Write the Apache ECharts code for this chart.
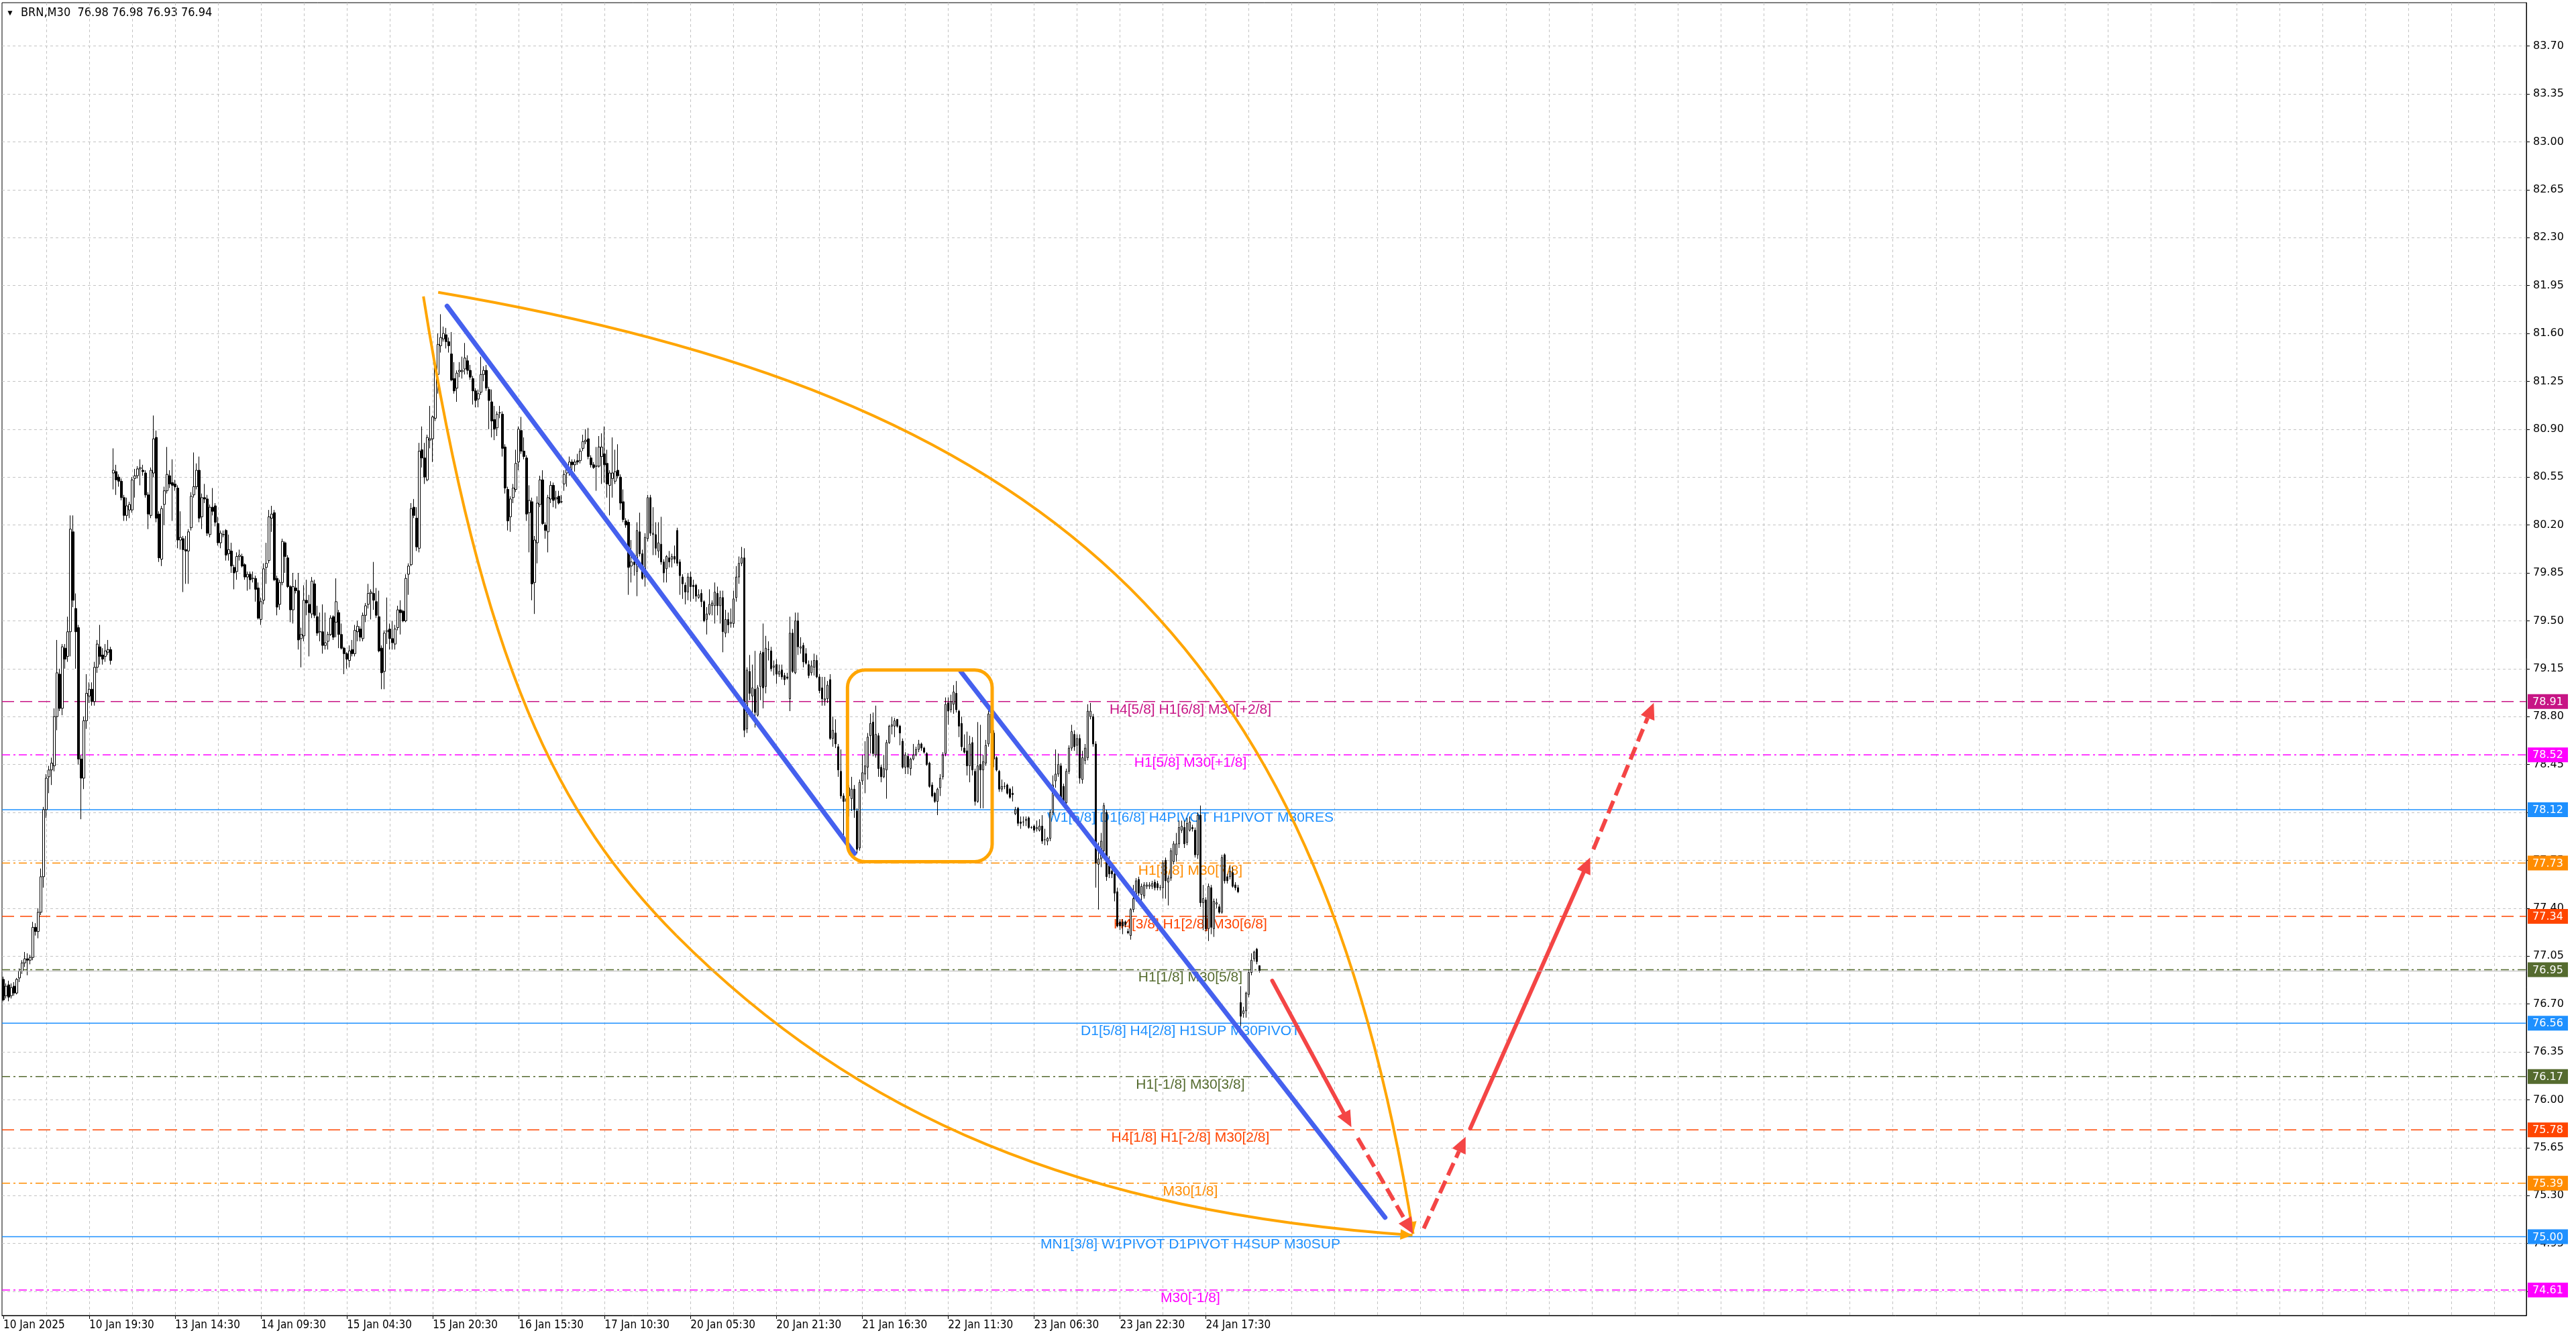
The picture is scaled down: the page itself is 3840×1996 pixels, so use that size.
<!DOCTYPE html>
<html>
<head>
<meta charset="utf-8">
<title>BRN,M30</title>
<script src="https://cdn.jsdelivr.net/npm/echarts@6.0.0/dist/echarts.min.js"></script>
<style>
html, body { margin: 0; padding: 0; background: #fff; }
#chart { width: 3840px; height: 1996px; }
</style>
</head>
<body>
<div id="chart"></div>
<script>
// time axis labels, one every 32 half-hour bars
var timeTickBars = [0, 32, 64, 96, 128, 160, 192, 224, 256, 288, 320, 352, 384, 416, 448];
var timeTickLabels = ['10 Jan 2025', '10 Jan 19:30', '13 Jan 14:30', '14 Jan 09:30', '15 Jan 04:30',
    '15 Jan 20:30', '16 Jan 15:30', '17 Jan 10:30', '20 Jan 05:30', '20 Jan 21:30',
    '21 Jan 16:30', '22 Jan 11:30', '23 Jan 06:30', '23 Jan 22:30', '24 Jan 17:30'];
var priceTicks = [74.60, 74.95, 75.30, 75.65, 76.00, 76.35, 76.70, 77.05, 77.40, 77.75, 78.10, 78.45,
    78.80, 79.15, 79.50, 79.85, 80.20, 80.55, 80.90, 81.25, 81.60, 81.95, 82.30, 82.65, 83.00, 83.35, 83.70];

// M30 candles, bar 0 = 10 Jan 03:30
var barOpen = [
    76.88, 76.76, 76.84, 76.76, 76.83, 76.78, 76.89, 76.94, 77.00, 77.03,
    77.02, 77.04, 77.26, 77.23, 77.37, 77.63, 78.12, 78.36, 78.41, 78.44,
    78.80, 79.11, 78.86, 79.30, 79.24, 79.42, 80.15, 79.59, 79.45, 78.49,
    78.35, 78.77, 78.95, 79.00, 78.91, 79.16, 79.31, 79.25, 79.24, 79.27,
    79.29, 80.58, 80.59, 80.55, 80.52, 80.40, 80.27, 80.31, 80.31, 80.54,
    80.56, 80.61, 80.60, 80.58, 80.42, 80.27, 80.58, 80.84, 80.28, 79.95,
    80.35, 80.45, 80.56, 80.51, 80.50, 80.47, 80.09, 80.10, 80.02, 80.01,
    80.18, 80.42, 80.48, 80.60, 80.26, 80.40, 80.39, 80.13, 80.33, 80.34,
    80.21, 80.07, 80.13, 80.16, 79.99, 80.01, 79.89, 79.86, 79.97, 79.97,
    79.91, 79.82, 79.84, 79.81, 79.81, 79.74, 79.51, 79.65, 79.89, 79.94,
    80.25, 80.29, 79.81, 79.62, 79.78, 80.07, 79.96, 79.75, 79.58, 79.74,
    79.72, 79.37, 79.39, 79.65, 79.62, 79.55, 79.77, 79.53, 79.42, 79.42,
    79.32, 79.35, 79.40, 79.53, 79.49, 79.56, 79.40, 79.30, 79.26, 79.21,
    79.29, 79.26, 79.42, 79.44, 79.37, 79.54, 79.62, 79.70, 79.70, 79.64,
    79.53, 79.30, 79.13, 79.42, 79.44, 79.37, 79.33, 79.45, 79.58, 79.57,
    79.50, 79.84, 79.91, 80.33, 80.25, 80.03, 80.75, 80.69, 80.53, 80.82,
    80.83, 80.98, 81.30, 81.51, 81.56, 81.59, 81.54, 81.45, 81.27, 81.20,
    81.32, 81.32, 81.34, 81.40, 81.33, 81.27, 81.18, 81.12, 81.17, 81.30,
    81.33, 81.19, 81.10, 80.97, 80.91, 81.02, 81.01, 80.77, 80.46, 80.26,
    80.40, 80.46, 80.66, 80.89, 80.74, 80.69, 80.29, 80.37, 79.78, 80.07,
    80.35, 80.53, 80.20, 80.15, 80.39, 80.49, 80.39, 80.41, 80.37, 80.50,
    80.58, 80.58, 80.66, 80.64, 80.67, 80.67, 80.76, 80.81, 80.83, 80.69,
    80.64, 80.63, 80.63, 80.70, 80.72, 80.65, 80.49, 80.54, 80.52, 80.60,
    80.55, 80.37, 80.23, 80.22, 79.90, 79.93, 79.86, 80.15, 79.99, 79.82,
    80.10, 80.40, 80.13, 80.13, 80.01, 80.06, 79.93, 79.88, 79.96, 79.95,
    79.97, 80.16, 79.93, 79.82, 79.76, 79.71, 79.82, 79.76, 79.76, 79.67,
    79.70, 79.64, 79.51, 79.55, 79.61, 79.61, 79.70, 79.61, 79.67, 79.41,
    79.51, 79.48, 79.48, 79.67, 79.82, 79.92, 79.96, 78.71, 79.13, 78.95,
    79.00, 78.81, 79.02, 79.27, 79.02, 79.29, 79.28, 79.16, 79.18, 79.11,
    79.14, 79.10, 79.09, 78.93, 79.41, 79.12, 79.50, 79.30, 79.32, 79.26,
    79.18, 79.12, 79.16, 79.21, 79.09, 79.01, 78.92, 78.93, 79.07, 78.64,
    78.68, 78.58, 78.40, 78.22, 78.18, 78.22, 78.20, 78.27, 78.11, 77.84,
    78.33, 78.38, 78.43, 78.66, 78.76, 78.52, 78.66, 78.43, 78.36, 78.41,
    78.61, 78.73, 78.73, 78.78, 78.73, 78.62, 78.43, 78.51, 78.42, 78.49,
    78.52, 78.56, 78.60, 78.57, 78.53, 78.46, 78.30, 78.24, 78.18, 78.28,
    78.36, 78.53, 78.90, 78.85, 78.89, 78.97, 78.84, 78.75, 78.57, 78.55,
    78.44, 78.61, 78.40, 78.18, 78.45, 78.41, 78.46, 78.60, 78.82, 78.68,
    78.50, 78.40, 78.27, 78.29, 78.30, 78.27, 78.24, 78.09, 78.13, 78.03,
    78.03, 78.04, 78.06, 77.99, 78.00, 77.98, 77.97, 78.00, 77.90, 77.89,
    77.91, 78.10, 78.33, 78.38, 78.44, 78.29, 78.17, 78.40, 78.57, 78.67,
    78.59, 78.64, 78.34, 78.48, 78.50, 78.80, 78.80, 78.60, 77.72, 77.76,
    77.82, 78.10, 77.71, 77.67, 77.65, 77.52, 77.30, 77.30, 77.30, 77.23,
    77.20, 77.39, 77.47, 77.61, 77.50, 77.49, 77.56, 77.56, 77.56, 77.59,
    77.58, 77.55, 77.55, 77.75, 77.59, 77.62, 77.74, 77.79, 77.87, 77.97,
    77.99, 77.88, 77.97, 77.99, 77.97, 77.79, 78.08, 77.44, 77.46, 77.25,
    77.55, 77.25, 77.43, 77.41, 77.37, 77.79, 77.63, 77.63, 77.66, 77.57,
    77.55, 76.71, 76.63, 76.65, 76.77, 76.93, 77.03, 77.10, 76.98
];
var barHigh = [
    76.90, 76.85, 76.87, 76.85, 76.86, 76.89, 76.96, 77.02, 77.08, 77.07,
    77.06, 77.30, 77.29, 77.40, 77.69, 78.14, 78.38, 78.44, 78.50, 78.86,
    79.36, 79.15, 79.33, 79.33, 79.53, 80.27, 80.27, 79.70, 79.47, 78.52,
    78.80, 79.11, 79.05, 79.05, 79.20, 79.36, 79.47, 79.30, 79.33, 79.36,
    79.31, 80.76, 80.64, 80.57, 80.54, 80.42, 80.40, 80.37, 80.55, 80.61,
    80.63, 80.68, 80.64, 80.60, 80.44, 80.62, 81.00, 80.89, 80.30, 80.34,
    80.48, 80.77, 80.60, 80.68, 80.53, 80.49, 80.30, 80.12, 80.12, 80.17,
    80.44, 80.73, 80.65, 80.70, 80.43, 80.50, 80.42, 80.35, 80.47, 80.36,
    80.26, 80.16, 80.16, 80.17, 80.13, 80.07, 79.91, 80.00, 80.02, 79.99,
    79.92, 79.86, 79.86, 79.86, 79.83, 79.78, 79.67, 79.92, 80.07, 80.31,
    80.34, 80.31, 79.83, 79.80, 80.10, 80.08, 79.98, 79.76, 79.85, 79.80,
    79.85, 79.45, 79.76, 79.80, 79.69, 79.82, 79.80, 79.61, 79.56, 79.62,
    79.56, 79.42, 79.54, 79.54, 79.81, 79.58, 79.48, 79.31, 79.27, 79.32,
    79.36, 79.47, 79.50, 79.46, 79.56, 79.63, 79.77, 79.73, 79.93, 79.74,
    79.72, 79.32, 79.43, 79.67, 79.48, 79.50, 79.47, 79.61, 79.65, 79.58,
    79.84, 79.92, 80.36, 80.39, 80.33, 80.80, 80.92, 80.80, 80.86, 81.07,
    81.00, 81.40, 81.60, 81.74, 81.65, 81.64, 81.57, 81.61, 81.39, 81.33,
    81.39, 81.43, 81.53, 81.44, 81.37, 81.29, 81.20, 81.19, 81.43, 81.36,
    81.37, 81.21, 81.19, 81.07, 81.03, 81.07, 81.03, 80.79, 80.48, 80.41,
    80.50, 80.75, 80.92, 80.99, 80.84, 80.71, 80.49, 80.40, 80.12, 80.41,
    80.56, 80.60, 80.22, 80.42, 80.52, 80.51, 80.45, 80.45, 80.42, 80.60,
    80.65, 80.70, 80.68, 80.68, 80.72, 80.76, 80.86, 80.90, 80.91, 80.71,
    80.66, 80.77, 80.85, 80.87, 80.92, 80.75, 80.60, 80.84, 80.75, 80.79,
    80.57, 80.46, 80.25, 80.24, 80.09, 79.99, 80.22, 80.29, 80.02, 80.14,
    80.42, 80.42, 80.33, 80.22, 80.22, 80.26, 79.95, 79.98, 80.01, 79.99,
    80.05, 80.18, 79.95, 79.84, 79.78, 79.85, 79.86, 79.80, 79.77, 79.73,
    79.73, 79.65, 79.60, 79.73, 79.65, 79.78, 79.75, 79.72, 79.72, 79.58,
    79.56, 79.59, 79.72, 79.90, 79.97, 80.04, 80.03, 79.16, 79.25, 79.18,
    79.28, 79.03, 79.28, 79.48, 79.39, 79.35, 79.31, 79.21, 79.22, 79.18,
    79.18, 79.12, 79.12, 79.53, 79.44, 79.56, 79.56, 79.38, 79.34, 79.30,
    79.21, 79.21, 79.26, 79.25, 79.11, 79.09, 79.09, 79.06, 79.11, 78.80,
    78.78, 78.60, 78.56, 78.24, 78.22, 78.30, 78.36, 78.30, 78.13, 78.34,
    78.52, 78.62, 78.68, 78.82, 78.83, 78.88, 78.68, 78.45, 78.52, 78.63,
    78.74, 78.80, 78.79, 78.78, 78.74, 78.64, 78.54, 78.53, 78.50, 78.60,
    78.58, 78.63, 78.61, 78.58, 78.54, 78.47, 78.32, 78.25, 78.28, 78.38,
    78.54, 78.94, 78.94, 78.96, 79.03, 79.06, 78.85, 78.80, 78.67, 78.69,
    78.66, 78.65, 78.42, 78.76, 78.74, 78.52, 78.63, 78.89, 78.84, 78.70,
    78.51, 78.41, 78.34, 78.32, 78.31, 78.28, 78.29, 78.14, 78.14, 78.07,
    78.07, 78.07, 78.07, 78.00, 78.01, 78.04, 78.05, 78.08, 77.98, 77.92,
    78.12, 78.37, 78.56, 78.53, 78.46, 78.31, 78.42, 78.59, 78.74, 78.70,
    78.67, 78.67, 78.55, 78.60, 78.89, 78.90, 78.82, 78.62, 77.88, 77.95,
    78.17, 78.12, 77.78, 77.70, 77.67, 77.55, 77.32, 77.32, 77.31, 77.25,
    77.40, 77.57, 77.62, 77.63, 77.58, 77.59, 77.59, 77.59, 77.60, 77.61,
    77.60, 77.57, 77.75, 77.77, 77.64, 77.84, 77.89, 77.95, 78.04, 78.04,
    78.04, 78.06, 78.07, 78.01, 77.99, 78.10, 78.15, 77.57, 77.48, 77.58,
    77.57, 77.47, 77.47, 77.43, 77.79, 77.80, 77.65, 77.71, 77.70, 77.59,
    77.57, 76.83, 76.68, 76.79, 76.95, 77.07, 77.09, 77.11, 76.98
];
var barLow = [
    76.72, 76.74, 76.72, 76.74, 76.76, 76.77, 76.86, 76.92, 76.97, 76.91,
    76.99, 77.02, 77.20, 77.18, 77.35, 77.55, 78.06, 78.24, 78.30, 78.40,
    78.70, 78.84, 78.81, 79.15, 79.20, 79.24, 79.60, 79.15, 78.45, 78.05,
    78.27, 78.71, 78.90, 78.88, 78.88, 79.12, 79.18, 79.18, 79.20, 79.25,
    79.18, 80.46, 80.42, 80.48, 80.38, 80.23, 80.23, 80.25, 80.29, 80.40,
    80.54, 80.49, 80.56, 80.40, 80.17, 80.25, 80.55, 80.22, 79.93, 79.90,
    80.20, 80.43, 80.47, 80.23, 80.45, 80.03, 80.02, 79.71, 79.77, 79.77,
    80.16, 80.40, 80.46, 80.22, 80.17, 80.36, 80.12, 80.11, 80.27, 80.19,
    80.05, 80.03, 80.11, 79.94, 79.94, 79.85, 79.73, 79.80, 79.94, 79.89,
    79.80, 79.72, 79.73, 79.78, 79.64, 79.51, 79.47, 79.62, 79.77, 79.92,
    80.15, 79.79, 79.54, 79.58, 79.76, 79.85, 79.74, 79.49, 79.48, 79.70,
    79.29, 79.16, 79.35, 79.54, 79.24, 79.52, 79.52, 79.39, 79.35, 79.26,
    79.29, 79.29, 79.39, 79.36, 79.38, 79.30, 79.29, 79.11, 79.15, 79.16,
    79.24, 79.24, 79.35, 79.35, 79.35, 79.49, 79.59, 79.51, 79.58, 79.52,
    79.27, 79.00, 79.00, 79.33, 79.29, 79.29, 79.29, 79.43, 79.40, 79.49,
    79.49, 79.69, 79.90, 80.25, 80.01, 80.00, 80.62, 80.50, 80.52, 80.76,
    80.66, 80.96, 81.16, 81.46, 81.54, 81.49, 81.46, 81.25, 81.16, 81.10,
    81.28, 81.27, 81.30, 81.30, 81.26, 81.08, 81.06, 81.06, 81.15, 81.25,
    81.18, 80.90, 80.84, 80.82, 80.85, 80.98, 80.70, 80.43, 80.16, 80.15,
    80.36, 80.44, 80.60, 80.72, 80.68, 80.23, 80.00, 79.65, 79.55, 79.92,
    80.33, 80.20, 80.10, 80.00, 80.36, 80.33, 80.32, 80.35, 80.36, 80.45,
    80.48, 80.56, 80.59, 80.59, 80.64, 80.65, 80.74, 80.79, 80.68, 80.62,
    80.61, 80.45, 80.62, 80.50, 80.51, 80.40, 80.27, 80.40, 80.50, 80.54,
    80.31, 80.22, 80.18, 79.69, 79.78, 79.83, 79.68, 79.97, 79.80, 79.75,
    80.08, 80.12, 79.98, 79.98, 79.96, 79.91, 79.78, 79.78, 79.89, 79.89,
    79.92, 79.90, 79.69, 79.66, 79.62, 79.65, 79.64, 79.66, 79.64, 79.66,
    79.60, 79.49, 79.40, 79.54, 79.54, 79.48, 79.54, 79.48, 79.27, 79.38,
    79.41, 79.45, 79.45, 79.64, 79.77, 79.90, 78.65, 78.68, 78.92, 78.81,
    78.72, 78.80, 78.92, 78.86, 78.97, 79.21, 79.13, 79.10, 79.04, 79.09,
    79.07, 79.03, 79.07, 78.84, 79.12, 79.11, 79.25, 79.26, 79.16, 79.18,
    79.08, 79.10, 79.10, 79.08, 78.97, 78.88, 78.88, 78.90, 78.63, 78.58,
    78.57, 78.36, 78.20, 77.93, 77.95, 78.07, 78.11, 78.06, 77.80, 77.82,
    78.30, 78.24, 78.34, 78.53, 78.51, 78.50, 78.36, 78.32, 78.35, 78.20,
    78.60, 78.67, 78.65, 78.72, 78.59, 78.42, 78.38, 78.38, 78.37, 78.48,
    78.51, 78.54, 78.55, 78.53, 78.44, 78.28, 78.21, 78.17, 78.08, 78.22,
    78.34, 78.51, 78.74, 78.83, 78.82, 78.83, 78.65, 78.55, 78.53, 78.37,
    78.32, 78.37, 78.15, 78.17, 78.13, 78.13, 78.44, 78.58, 78.66, 78.43,
    78.40, 78.25, 78.25, 78.27, 78.23, 78.20, 78.18, 78.08, 78.00, 77.98,
    78.00, 78.00, 77.98, 77.98, 77.95, 77.96, 77.96, 77.87, 77.86, 77.86,
    77.89, 78.08, 78.28, 78.36, 78.17, 78.17, 78.15, 78.38, 78.55, 78.55,
    78.52, 78.31, 78.31, 78.45, 78.48, 78.78, 78.58, 77.55, 77.39, 77.70,
    77.80, 77.60, 77.62, 77.62, 77.45, 77.26, 77.24, 77.21, 77.26, 77.21,
    77.17, 77.37, 77.45, 77.49, 77.43, 77.47, 77.54, 77.54, 77.54, 77.53,
    77.53, 77.53, 77.47, 77.47, 77.42, 77.60, 77.72, 77.74, 77.84, 77.95,
    77.84, 77.86, 77.96, 77.96, 77.77, 77.76, 77.41, 77.24, 77.23, 77.16,
    77.21, 77.19, 77.40, 77.36, 77.36, 77.58, 77.58, 77.61, 77.55, 77.53,
    77.51, 76.54, 76.60, 76.60, 76.75, 76.91, 77.01, 76.99, 76.93
];
var barClose = [
    76.73, 76.83, 76.75, 76.82, 76.78, 76.88, 76.94, 77.00, 77.03, 77.02,
    77.04, 77.26, 77.23, 77.37, 77.63, 78.12, 78.35, 78.41, 78.46, 78.80,
    79.12, 78.86, 79.31, 79.22, 79.42, 80.17, 79.65, 79.42, 78.49, 78.35,
    78.77, 78.97, 79.00, 78.91, 79.16, 79.33, 79.24, 79.22, 79.28, 79.29,
    79.21, 80.60, 80.53, 80.52, 80.40, 80.27, 80.34, 80.35, 80.53, 80.56,
    80.61, 80.62, 80.59, 80.42, 80.28, 80.60, 80.83, 80.25, 79.96, 80.32,
    80.45, 80.57, 80.50, 80.49, 80.48, 80.09, 80.11, 80.02, 80.01, 80.15,
    80.41, 80.48, 80.60, 80.25, 80.40, 80.39, 80.14, 80.33, 80.30, 80.22,
    80.07, 80.14, 80.13, 79.98, 80.02, 79.90, 79.85, 79.97, 79.98, 79.90,
    79.82, 79.84, 79.80, 79.81, 79.73, 79.52, 79.64, 79.88, 79.92, 80.26,
    80.28, 79.80, 79.60, 79.78, 80.08, 79.97, 79.75, 79.58, 79.75, 79.72,
    79.36, 79.40, 79.65, 79.63, 79.56, 79.79, 79.54, 79.41, 79.42, 79.32,
    79.34, 79.40, 79.52, 79.38, 79.64, 79.40, 79.30, 79.26, 79.22, 79.28,
    79.26, 79.43, 79.46, 79.38, 79.54, 79.61, 79.70, 79.71, 79.65, 79.54,
    79.28, 79.12, 79.41, 79.43, 79.37, 79.34, 79.44, 79.58, 79.56, 79.50,
    79.81, 79.90, 80.32, 80.27, 80.04, 80.74, 80.69, 80.55, 80.84, 80.83,
    80.99, 81.35, 81.52, 81.57, 81.60, 81.54, 81.51, 81.26, 81.18, 81.31,
    81.33, 81.33, 81.42, 81.33, 81.28, 81.18, 81.11, 81.16, 81.30, 81.33,
    81.20, 81.11, 80.96, 80.90, 81.01, 81.02, 80.76, 80.47, 80.23, 80.39,
    80.47, 80.65, 80.90, 80.74, 80.70, 80.28, 80.38, 79.77, 80.09, 80.36,
    80.53, 80.21, 80.16, 80.40, 80.49, 80.38, 80.40, 80.36, 80.37, 80.57,
    80.63, 80.66, 80.64, 80.66, 80.66, 80.74, 80.81, 80.82, 80.70, 80.64,
    80.62, 80.63, 80.77, 80.77, 80.64, 80.50, 80.58, 80.58, 80.59, 80.56,
    80.36, 80.24, 80.20, 79.89, 79.93, 79.91, 80.16, 79.99, 79.81, 80.11,
    80.40, 80.14, 80.14, 80.03, 80.07, 79.93, 79.85, 79.97, 79.93, 79.97,
    79.95, 79.92, 79.83, 79.77, 79.71, 79.82, 79.75, 79.75, 79.68, 79.69,
    79.64, 79.50, 79.55, 79.62, 79.63, 79.71, 79.61, 79.67, 79.42, 79.51,
    79.47, 79.49, 79.66, 79.82, 79.92, 79.96, 78.70, 79.14, 78.97, 79.01,
    78.83, 79.01, 79.26, 79.01, 79.30, 79.29, 79.15, 79.17, 79.11, 79.13,
    79.09, 79.07, 79.08, 79.41, 79.13, 79.50, 79.31, 79.31, 79.20, 79.19,
    79.10, 79.17, 79.21, 79.09, 78.99, 78.93, 78.93, 79.03, 78.64, 78.70,
    78.60, 78.41, 78.22, 78.18, 78.20, 78.28, 78.27, 78.12, 77.83, 78.32,
    78.39, 78.44, 78.65, 78.75, 78.53, 78.67, 78.42, 78.36, 78.42, 78.61,
    78.73, 78.74, 78.77, 78.73, 78.68, 78.43, 78.52, 78.43, 78.49, 78.52,
    78.56, 78.60, 78.57, 78.54, 78.45, 78.29, 78.22, 78.18, 78.27, 78.35,
    78.52, 78.89, 78.84, 78.91, 78.98, 78.85, 78.73, 78.58, 78.54, 78.44,
    78.60, 78.41, 78.18, 78.44, 78.41, 78.47, 78.59, 78.82, 78.68, 78.49,
    78.41, 78.27, 78.29, 78.29, 78.24, 78.21, 78.23, 78.12, 78.02, 78.02,
    78.03, 78.05, 77.99, 77.99, 77.97, 77.99, 78.00, 77.89, 77.90, 77.91,
    78.10, 78.30, 78.38, 78.45, 78.18, 78.18, 78.40, 78.57, 78.69, 78.58,
    78.64, 78.35, 78.50, 78.57, 78.84, 78.84, 78.60, 77.73, 77.76, 77.89,
    78.15, 77.63, 77.65, 77.65, 77.51, 77.27, 77.27, 77.27, 77.28, 77.22,
    77.39, 77.47, 77.60, 77.51, 77.56, 77.57, 77.57, 77.57, 77.58, 77.55,
    77.55, 77.55, 77.73, 77.60, 77.62, 77.82, 77.87, 77.87, 77.99, 78.00,
    77.87, 78.02, 78.03, 77.98, 77.79, 78.08, 77.44, 77.47, 77.25, 77.56,
    77.26, 77.45, 77.44, 77.37, 77.77, 77.60, 77.60, 77.67, 77.56, 77.55,
    77.52, 76.61, 76.65, 76.78, 76.93, 77.02, 77.08, 77.01, 76.94
];

// Murrey levels
var levelPrices = [78.91, 78.52, 78.12, 77.73, 77.34, 76.95, 76.56, 76.17, 75.78, 75.39, 75.00, 74.61];
var levelNames = [
    'H4[5/8] H1[6/8] M30[+2/8]', 'H1[5/8] M30[+1/8]', 'W1[5/8] D1[6/8] H4PIVOT H1PIVOT M30RES',
    'H1[3/8] M30[7/8]', 'H4[3/8] H1[2/8] M30[6/8]', 'H1[1/8] M30[5/8]',
    'D1[5/8] H4[2/8] H1SUP M30PIVOT', 'H1[-1/8] M30[3/8]', 'H4[1/8] H1[-2/8] M30[2/8]',
    'M30[1/8]', 'MN1[3/8] W1PIVOT D1PIVOT H4SUP M30SUP', 'M30[-1/8]'
];
var bidPrice = 76.94;

// hand drawn objects, [bar, price]
var trendFrom = [[165.3, 81.80], [356.7, 79.13]];
var trendTo = [[317.1, 77.80], [514.8, 75.14]];
var boxFrom = [314.5, 79.14];
var boxTo = [368.4, 77.74];
// arcs as cubic bezier chains: start, ctrl, ctrl, end, ctrl, ctrl, end ...
var upperArc = [[162.0, 81.90], [387.0, 81.15], [489.25, 79.44], [525.25, 75.02]];
var lowerArc = [[156.5, 81.87], [178.5, 79.16], [206.55, 78.07], [250.75, 77.20],
    [317.9, 75.88], [400.25, 75.18], [525.0, 75.01]];
var arrowFrom = [[472.75, 76.87], [504.6, 75.72], [529.2, 75.06], [546.5, 75.79], [592.4, 77.83]];
var arrowTo = [[502.25, 75.80], [525.2, 75.02], [544.8, 75.73], [591.2, 77.77], [614.9, 78.90]];
var arrowDashed = [false, true, true, false, true];

// styles
var levelColors = ['#C71585', '#FF00FF', '#1E90FF', '#FF8C00', '#FF4500', '#556B2F',
    '#1E90FF', '#556B2F', '#FF4500', '#FF8C00', '#1E90FF', '#FF00FF'];
var levelLine = ['dash', 'dashdot', 'solid', 'dashdot', 'dash', 'dashdot',
    'solid', 'dashdot', 'dash', 'dashdot', 'solid', 'dashdot'];
var DASHES = { solid: null, dash: [18, 9], dashdot: [12, 5, 3, 5] };
var LABEL_BAR = 442.25;
var CONDENSED = '"DejaVu Sans Condensed", "Liberation Sans Narrow", "DejaVu Sans", sans-serif';
var RED = '#F44545';
var ORANGE = '#FFA500';
var BLUE = '#4560EE';

if (barOpen.length !== barClose.length || barHigh.length !== barClose.length || barLow.length !== barClose.length) {
    throw new Error('bar arrays differ: ' + [barOpen.length, barHigh.length, barLow.length, barClose.length].join(','));
}

var candles = [];
for (var i = 0; i < barClose.length; i++) {
    candles.push([i, barOpen[i], barClose[i], barLow[i], barHigh[i]]);
}
var gridBars = [];
for (var b = 16; b < 940; b += 16) gridBars.push(b);

// split the arc chains into bezier segments, flag the last one of each arc for the arrow head
var arcSegments = [];
[upperArc, lowerArc].forEach(function (arc) {
    for (var s = 0; s + 3 < arc.length; s += 3) {
        arcSegments.push([arc[s][0], arc[s][1], arc[s + 1][0], arc[s + 1][1],
            arc[s + 2][0], arc[s + 2][1], arc[s + 3][0], arc[s + 3][1], s + 4 >= arc.length ? 1 : 0]);
    }
});

function arrowHead(tip, from, len, half) {
    var dx = tip[0] - from[0], dy = tip[1] - from[1];
    var d = Math.sqrt(dx * dx + dy * dy) || 1;
    var ux = dx / d, uy = dy / d;
    var bx = tip[0] - ux * len, by = tip[1] - uy * len;
    return {
        base: [bx, by],
        points: [[tip[0], tip[1]], [bx - uy * half, by + ux * half], [bx + uy * half, by - ux * half]]
    };
}

function renderLevel(params, api) {
    var i = params.dataIndex;
    var cs = params.coordSys;
    var p = api.coord([api.value(0), api.value(1)]);
    return {
        type: 'group',
        children: [{
            type: 'line',
            shape: { x1: cs.x, y1: p[1], x2: cs.x + cs.width, y2: p[1] },
            style: { stroke: levelColors[i], lineWidth: 1.5, lineDash: DASHES[levelLine[i]] }
        }, {
            type: 'text', x: p[0], y: p[1] + 12,
            style: {
                text: levelNames[i], fill: levelColors[i], fontSize: 21,
                fontFamily: '"Liberation Sans", Arial, sans-serif', align: 'center', verticalAlign: 'middle'
            }
        }]
    };
}

function renderTag(params, api) {
    var i = params.dataIndex;
    var cs = params.coordSys;
    var y = api.coord([0, api.value(1)])[1];
    var x = cs.x + cs.width + 2;
    return {
        type: 'group',
        children: [{
            type: 'rect', shape: { x: x, y: y - 11, width: 60, height: 22 },
            style: { fill: levelColors[i] }
        }, {
            type: 'text', x: x + 30, y: y + 1,
            style: {
                text: api.value(1).toFixed(2), fill: '#fff', fontSize: 16,
                fontFamily: '"DejaVu Sans", Verdana, sans-serif', align: 'center', verticalAlign: 'middle'
            }
        }]
    };
}

function renderTrend(params, api) {
    var a = api.coord([api.value(0), api.value(1)]);
    var b = api.coord([api.value(2), api.value(3)]);
    return {
        type: 'line',
        shape: { x1: a[0], y1: a[1], x2: b[0], y2: b[1] },
        style: { stroke: BLUE, lineWidth: 7, lineCap: 'round' }
    };
}

function renderBox(params, api) {
    var a = api.coord([api.value(0), api.value(1)]);
    var b = api.coord([api.value(2), api.value(3)]);
    return {
        type: 'rect',
        shape: { x: a[0], y: a[1], width: b[0] - a[0], height: b[1] - a[1], r: 26 },
        style: { fill: 'none', stroke: ORANGE, lineWidth: 5 }
    };
}

function renderArc(params, api) {
    var p = [];
    for (var j = 0; j < 4; j++) p.push(api.coord([api.value(2 * j), api.value(2 * j + 1)]));
    var children = [{
        type: 'bezierCurve',
        shape: {
            x1: p[0][0], y1: p[0][1], cpx1: p[1][0], cpy1: p[1][1],
            cpx2: p[2][0], cpy2: p[2][1], x2: p[3][0], y2: p[3][1]
        },
        style: { fill: 'none', stroke: ORANGE, lineWidth: 4 }
    }];
    if (api.value(8) === 1) {
        var head = arrowHead(p[3], p[2], 18, 8);
        children.push({ type: 'polygon', shape: { points: head.points }, style: { fill: ORANGE } });
    }
    return { type: 'group', children: children };
}

function renderArrow(params, api) {
    var a = api.coord([api.value(0), api.value(1)]);
    var b = api.coord([api.value(2), api.value(3)]);
    var head = arrowHead(b, a, 24, 11);
    var dashed = arrowDashed[params.dataIndex];
    return {
        type: 'group',
        children: [{
            type: 'line',
            shape: { x1: a[0], y1: a[1], x2: head.base[0], y2: head.base[1] },
            style: { stroke: RED, lineWidth: 6, lineDash: dashed ? [20, 9] : null, lineCap: dashed ? 'butt' : 'round' }
        }, {
            type: 'polygon', shape: { points: head.points }, style: { fill: RED }
        }]
    };
}

var chart = echarts.init(document.getElementById('chart'));
var option = {
    animation: false,
    backgroundColor: '#fff',
    graphic: [
        { type: 'text', left: 9, top: 14, style: { text: '\u25BC', fontSize: 12, fill: '#000' } },
        { type: 'text', left: 31, top: 10, style: { text: 'BRN,M30  76.98 76.98 76.93 76.94', fontSize: 18, fontFamily: CONDENSED, fill: '#000' } }
    ],
    grid: {
        left: 3, top: 4, right: 74, bottom: 35,
        show: true, borderColor: '#000', borderWidth: 1, backgroundColor: '#fff',
        containLabel: false, outerBoundsMode: 'none'
    },
    xAxis: [{
        type: 'value', min: -0.5, max: 940, position: 'bottom',
        axisLine: { show: true, onZero: false, lineStyle: { color: '#000', width: 1 } },
        axisTick: { show: true, customValues: timeTickBars, length: 5, lineStyle: { color: '#000' } },
        axisLabel: {
            customValues: timeTickBars, align: 'left', margin: 6, color: '#000',
            fontSize: 17, fontFamily: CONDENSED,
            formatter: function (v) {
                var k = timeTickBars.indexOf(Math.round(v));
                return k >= 0 ? timeTickLabels[k] : '';
            }
        },
        splitLine: { show: false }
    }, {
        type: 'value', min: -0.5, max: 940, position: 'bottom',
        axisLine: { show: false },
        axisTick: { show: false, customValues: gridBars },
        axisLabel: { show: false },
        splitLine: { show: true, lineStyle: { color: '#c4c4c4', width: 1, type: [4, 4] } }
    }],
    yAxis: {
        type: 'value', position: 'right', min: 74.4235, max: 84.0167,
        axisLine: { show: true, onZero: false, lineStyle: { color: '#000', width: 1 } },
        axisTick: { show: true, customValues: priceTicks, length: 5, lineStyle: { color: '#000' } },
        axisLabel: {
            customValues: priceTicks, margin: 10, color: '#000', fontSize: 16,
            fontFamily: '"DejaVu Sans", Verdana, sans-serif',
            formatter: function (v) { return v.toFixed(2); }
        },
        splitLine: { show: true, lineStyle: { color: '#c4c4c4', width: 1, type: [4, 4] } }
    },
    series: [{
        name: 'levels', type: 'custom', z: 1, silent: true,
        renderItem: renderLevel, encode: { x: 0, y: 1 },
        data: levelPrices.map(function (p) { return [LABEL_BAR, p]; })
    }, {
        name: 'BRN,M30', type: 'candlestick', z: 2, barWidth: 3,
        encode: { x: 0, y: [1, 2, 3, 4] },
        itemStyle: {
            color: '#fff', color0: '#000', borderColor: '#000', borderColor0: '#000',
            borderColorDoji: '#000', borderWidth: 1
        },
        data: candles,
        markLine: {
            silent: true, symbol: ['none', 'none'], label: { show: false },
            lineStyle: { color: '#b4b4b4', width: 1, type: 'solid' },
            data: [{ yAxis: bidPrice }]
        }
    }, {
        name: 'trend', type: 'custom', z: 3, silent: true,
        renderItem: renderTrend, encode: { x: [0, 2], y: [1, 3] },
        data: trendFrom.map(function (f, i) { return [f[0], f[1], trendTo[i][0], trendTo[i][1]]; })
    }, {
        name: 'box', type: 'custom', z: 3, silent: true,
        renderItem: renderBox, encode: { x: [0, 2], y: [1, 3] },
        data: [[boxFrom[0], boxFrom[1], boxTo[0], boxTo[1]]]
    }, {
        name: 'arcs', type: 'custom', z: 3, silent: true,
        renderItem: renderArc, encode: { x: [0, 2, 4, 6], y: [1, 3, 5, 7] },
        data: arcSegments
    }, {
        name: 'arrows', type: 'custom', z: 4, silent: true,
        renderItem: renderArrow, encode: { x: [0, 2], y: [1, 3] },
        data: arrowFrom.map(function (f, i) { return [f[0], f[1], arrowTo[i][0], arrowTo[i][1]]; })
    }, {
        name: 'tags', type: 'custom', z: 5, silent: true, clip: false,
        renderItem: renderTag, encode: { x: 0, y: 1 },
        data: levelPrices.map(function (p) { return [0, p]; })
    }]
};
chart.setOption(option);
</script>
</body>
</html>
